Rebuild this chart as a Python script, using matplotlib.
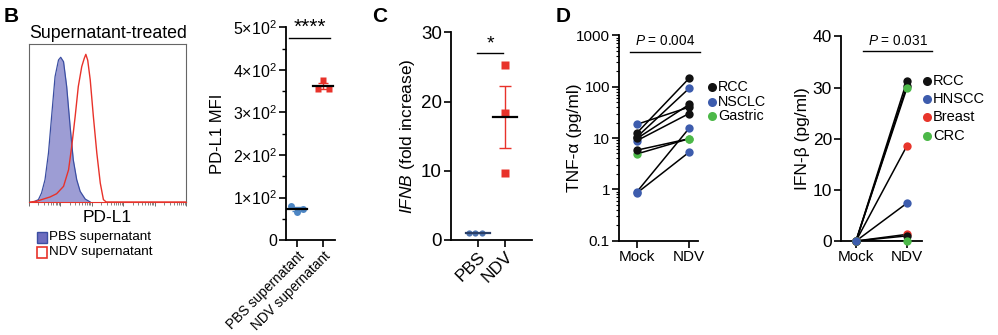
import matplotlib
matplotlib.use("Agg")
import matplotlib.pyplot as plt
from matplotlib.patches import Rectangle
from matplotlib.lines import Line2D
import numpy as np

plt.rcParams['font.family'] = ['Liberation Sans', 'DejaVu Sans']
plt.rcParams['mathtext.fontset'] = 'custom'
plt.rcParams['mathtext.rm'] = 'Liberation Sans'
plt.rcParams['mathtext.it'] = 'Liberation Sans:italic'

# ---------------- data ----------------
# Histogram (log10 fluorescence, % of max)
hist_pbs_x = [0.14, 0.30, 0.40, 0.51, 0.62, 0.72, 0.83, 0.94, 1.01, 1.10, 1.20, 1.31, 1.41, 1.52, 1.63, 1.79, 1.95]
hist_pbs_y = [0, 1.6, 6.1, 15.1, 33.1, 57.9, 84.9, 96.2, 98.0, 95.0, 78.2, 51.1, 28.6, 15.1, 7.2, 2.0, 0]
hist_ndv_x = [0.03, 0.24, 0.46, 0.67, 0.88, 1.10, 1.26, 1.36, 1.47, 1.57, 1.68, 1.76, 1.81, 1.87, 1.95, 2.05, 2.16, 2.27, 2.37, 2.46, 5.0]
hist_ndv_y = [0, 0.5, 2.0, 3.4, 5.6, 10.6, 21.8, 37.6, 57.9, 78.2, 91.7, 97.3, 100, 96, 82.7, 57.9, 33.1, 12.8, 1.6, 0, 0]
hist_labels = ['PBS supernatant', 'NDV supernatant']

# PD-L1 MFI
mfi_categories = ['PBS supernatant', 'NDV supernatant']
mfi_pbs = [80, 65, 72]
mfi_ndv = [377, 355, 355]

# IFNB fold increase
ifnb_categories = ['PBS', 'NDV']
ifnb_pbs = [1.0, 1.0, 1.0]
ifnb_ndv = [25.3, 18.4, 9.7]

# TNF-alpha (pg/ml)
tnf_categories = ['Mock', 'NDV']
tnf_mock = [18.5, 12.6, 10.5, 9.8, 8.9, 5.8, 4.9, 0.9, 0.85]
tnf_mock_type = ['NSCLC', 'RCC', 'RCC', 'RCC', 'NSCLC', 'RCC', 'Gastric', 'NSCLC', 'NSCLC']
tnf_ndv = [40, 146, 93, 45, 30, 9.7, 9.7, 15.5, 5.3]
tnf_ndv_type = ['RCC', 'RCC', 'NSCLC', 'RCC', 'RCC', 'Gastric', 'Gastric', 'NSCLC', 'NSCLC']
tnf_legend = ['RCC', 'NSCLC', 'Gastric']

# IFN-beta (pg/ml)
ifnbeta_categories = ['Mock', 'NDV']
ifnbeta_mock = [0, 0, 0, 0, 0, 0, 0, 0]
ifnbeta_ndv = [31.3, 30.4, 29.9, 18.6, 7.4, 1.3, 1.0, 0.0]
ifnbeta_type = ['RCC', 'RCC', 'CRC', 'Breast', 'HNSCC', 'Breast', 'RCC', 'CRC']
ifnbeta_legend = ['RCC', 'HNSCC', 'Breast', 'CRC']

# ---------------- style ----------------
W, H = 998, 335
COL = {'RCC': '#111111', 'NSCLC': '#3d5cad', 'HNSCC': '#3d5cad',
       'Gastric': '#4cb848', 'CRC': '#4cb848', 'Breast': '#e8352b'}
RED = '#e8322a'
BLUE_PT = '#4d86c4'

fig = plt.figure(figsize=(W / 100, H / 100), dpi=100)


def rect(l, t, r, b):
    return [l / W, 1 - b / H, (r - l) / W, (b - t) / H]


def ftext(x, y, s, **kw):
    fig.text(x / W, 1 - y / H, s, **kw)


def style_axes(ax, fs):
    for s in ['top', 'right']:
        ax.spines[s].set_visible(False)
    for s in ['left', 'bottom']:
        ax.spines[s].set_linewidth(1.3)
    ax.tick_params(which='major', length=5, width=1.2, labelsize=fs, pad=1.5)
    ax.tick_params(which='minor', length=3, width=1.0)


def ylabel_at(ax, text, px, l, r, fs):
    # px = right edge (in figure pixels) of the rotated label
    ax.set_ylabel(text, fontsize=fs)
    ax.yaxis.set_label_coords((px - l) / (r - l), 0.5)


# ---------- Panel B histogram ----------
axh = fig.add_axes(rect(29, 44, 186, 202))
axh.fill_between(hist_pbs_x, hist_pbs_y, color='#9d9dd4', lw=0)
axh.plot(hist_pbs_x, hist_pbs_y, color='#3b4ea2', lw=0.9)
axh.plot(hist_ndv_x, hist_ndv_y, color=RED, lw=1.0)
axh.set_xlim(0, 5)
axh.set_ylim(0, 107)
axh.set_yticks([])
maj = list(range(0, 6))
mnr = [d + np.log10(k) for d in range(0, 5) for k in range(2, 10)]
axh.set_xticks(maj)
axh.set_xticks(mnr, minor=True)
axh.set_xticklabels([])
axh.tick_params(axis='x', which='major', length=3, width=0.6, color='#555555')
axh.tick_params(axis='x', which='minor', length=2, width=0.5, color='#555555')
for s in axh.spines.values():
    s.set_linewidth(0.8)
    s.set_color('#666666')
axh.spines['bottom'].set_color(RED)
ftext(108, 33, 'Supernatant-treated', ha='center', va='center', fontsize=12.8)
ftext(107, 217, 'PD-L1', ha='center', va='center', fontsize=12.5)
ftext(4, 16, 'B', ha='left', va='center', fontsize=15, fontweight='bold')
# legend
fig.add_artist(Rectangle((37 / W, 1 - 243 / H), 10 / W, 11 / H, transform=fig.transFigure,
                         facecolor='#6d6dbf', edgecolor='#3b4ea2', lw=1))
fig.add_artist(Rectangle((37 / W, 1 - 258 / H), 10 / W, 11 / H, transform=fig.transFigure,
                         facecolor='white', edgecolor=RED, lw=1.2))
ftext(49, 237, hist_labels[0], ha='left', va='center', fontsize=9.7)
ftext(49, 252, hist_labels[1], ha='left', va='center', fontsize=9.7)

# ---------- Panel B MFI ----------
L, R = 286, 335
axm = fig.add_axes(rect(L, 27.5, R, 240))
style_axes(axm, 11.5)
axm.set_xlim(-0.42, 1.46)
axm.set_ylim(0, 500)
jit_m_pbs = [-0.24, 0.0, 0.24]
jit_m_ndv = [0.0, -0.19, 0.24]
axm.plot([0 + j for j in jit_m_pbs], mfi_pbs, 'o', color=BLUE_PT, ms=5, mec='none', zorder=3)
axm.plot([1 + j for j in jit_m_ndv], mfi_ndv, 's', color=RED, ms=5, mec='none', zorder=3)
for i, vals, c in [(0, mfi_pbs, BLUE_PT), (1, mfi_ndv, RED)]:
    m = np.mean(vals)
    sem = np.std(vals, ddof=1) / np.sqrt(len(vals))
    axm.errorbar(i, m, yerr=sem, color=c, capsize=3.5, lw=1.0, capthick=1.0, zorder=4)
    axm.plot([i - 0.4, i + 0.4], [m, m], color='black', lw=1.6, zorder=5)
axm.set_yticks([0, 100, 200, 300, 400, 500])
axm.set_yticklabels(['0', '1×10$^{2}$', '2×10$^{2}$', '3×10$^{2}$', '4×10$^{2}$', '5×10$^{2}$'])
axm.set_yticks([50, 150, 250, 350, 450], minor=True)
axm.set_xticks([0, 1])
axm.set_xticklabels(mfi_categories, rotation=45, ha='right', rotation_mode='anchor', fontsize=9.8)
ylabel_at(axm, 'PD-L1 MFI', 225, L, R, 12)
axm.plot([-0.3, 1.27], [475, 475], color='black', lw=1.0, clip_on=False)
axm.text(0.49, 478, '****', ha='center', va='bottom', fontsize=15)

# ---------- Panel C ----------
L, R = 451, 532
axc = fig.add_axes(rect(L, 32.3, R, 240))
style_axes(axc, 13.5)
axc.set_xlim(-1.0, 2.0)
axc.set_ylim(0, 30)
jit_c = [-0.33, -0.1, 0.13]
axc.plot([0 + j for j in jit_c], ifnb_pbs, 'o', color='#4e74b0', ms=4.5, mec='none', zorder=3)
axc.plot([1] * len(ifnb_ndv), ifnb_ndv, 's', color=RED, ms=6, mec='none', zorder=3)
m0 = np.mean(ifnb_pbs)
axc.plot([-0.45, 0.45], [m0, m0], color='#2a3f66', lw=1.6, zorder=4)
m1 = np.mean(ifnb_ndv)
sem1 = np.std(ifnb_ndv, ddof=1) / np.sqrt(len(ifnb_ndv))
axc.errorbar(1, m1, yerr=sem1, color=RED, capsize=4.5, lw=1.0, capthick=1.0, zorder=4)
axc.plot([0.55, 1.45], [m1, m1], color='black', lw=1.6, zorder=5)
axc.set_yticks([0, 10, 20, 30])
axc.set_xticks([0, 1])
axc.set_xticklabels(ifnb_categories, rotation=45, ha='right', rotation_mode='anchor', fontsize=12.5)
ylabel_at(axc, r'$\mathit{IFNB}$ (fold increase)', 417, L, R, 12.5)
axc.plot([-0.02, 0.93], [27.0, 27.0], color='black', lw=1.0)
axc.text(0.45, 27.1, '*', ha='center', va='bottom', fontsize=14)
ftext(372, 16, 'C', ha='left', va='center', fontsize=15, fontweight='bold')

# ---------- Panel D TNF ----------
L, R = 619, 698
axt = fig.add_axes(rect(L, 35.4, R, 240.6))
style_axes(axt, 11)
axt.set_yscale('log')
axt.set_xlim(-0.346, 1.17)
axt.set_ylim(0.1, 1000)
for a, b in zip(tnf_mock, tnf_ndv):
    axt.plot([0, 1], [a, b], color='black', lw=1.1, zorder=2)
for v, t in zip(tnf_mock, tnf_mock_type):
    axt.plot(0, v, 'o', color=COL[t], ms=6, mec='none', zorder=3 if t != 'RCC' else 4)
for v, t in zip(tnf_ndv, tnf_ndv_type):
    axt.plot(1, v, 'o', color=COL[t], ms=6, mec='none', zorder=3 if t != 'RCC' else 4)
axt.set_yticks([0.1, 1, 10, 100, 1000])
axt.set_yticklabels(['0.1', '1', '10', '100', '1000'])
axt.yaxis.set_minor_locator(matplotlib.ticker.LogLocator(base=10, subs=np.arange(2, 10)))
axt.yaxis.set_minor_formatter(matplotlib.ticker.NullFormatter())
axt.tick_params(axis='y', which='minor', length=2.5, width=0.8)
axt.set_xticks([0, 1])
axt.set_xticklabels(tnf_categories, fontsize=11)
ylabel_at(axt, 'TNF-α (pg/ml)', 582, L, R, 12.5)
axt.plot([-0.13, 1.2], [480, 480], color='black', lw=1.0, clip_on=False)
axt.text(0.53, 560, '$P$ = 0.004', ha='center', va='bottom', fontsize=9.8)
ftext(556, 16, 'D', ha='left', va='center', fontsize=15, fontweight='bold')
for k, name in enumerate(tnf_legend):
    yy = 87 + 14.5 * k
    fig.add_artist(Line2D([712 / W], [1 - yy / H], marker='o', color=COL[name], ms=6.5,
                          mec='none', transform=fig.transFigure))
    ftext(718, yy, name, ha='left', va='center', fontsize=10.3)

# ---------- Panel D IFN-beta ----------
L, R = 841, 921.7
axb = fig.add_axes(rect(L, 36.4, R, 241))
style_axes(axb, 12.5)
axb.set_xlim(-0.294, 1.29)
axb.set_ylim(0, 40)
for a, b in zip(ifnbeta_mock, ifnbeta_ndv):
    axb.plot([0, 1], [a, b], color='black', lw=1.1, zorder=2)
for v, t in zip(ifnbeta_ndv, ifnbeta_type):
    axb.plot(1, v, 'o', color=COL[t], ms=6, mec='none', zorder=3, clip_on=False)
for v, t in zip(ifnbeta_mock, ifnbeta_type):
    axb.plot(0, v, 'o', color=COL[t], ms=6, mec='none', zorder=5 if t == 'HNSCC' else 3, clip_on=False)
axb.set_yticks([0, 10, 20, 30, 40])
axb.set_xticks([0, 1])
axb.set_xticklabels(ifnbeta_categories, fontsize=11)
ylabel_at(axb, 'IFN-β (pg/ml)', 810, L, R, 12.5)
axb.plot([0.137, 1.49], [37.2, 37.2], color='black', lw=1.0, clip_on=False)
axb.text(0.82, 37.7, '$P$ = 0.031', ha='center', va='bottom', fontsize=9.8)
for k, name in enumerate(ifnbeta_legend):
    yy = 81 + 18.2 * k
    fig.add_artist(Line2D([927 / W], [1 - yy / H], marker='o', color=COL[name], ms=6.5,
                          mec='none', transform=fig.transFigure))
    ftext(933, yy, name, ha='left', va='center', fontsize=10.5)

fig.savefig('out.png', dpi=100)
